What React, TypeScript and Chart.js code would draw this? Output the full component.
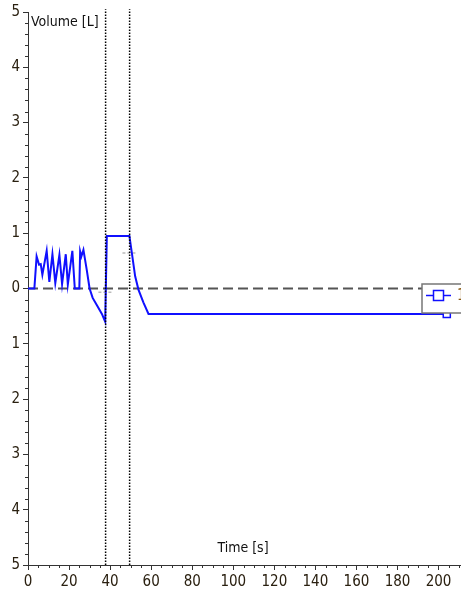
import React, { useEffect, useRef } from "react";
import { Chart, registerables } from "chart.js";

Chart.register(...registerables);

// ---- data ----
const TIME = [0, 3.1, 4.2, 5.4, 6.2, 7.0, 9.1, 10.4, 11.9, 13.3, 15.3, 16.6, 18.4, 19.4, 21.6, 22.8, 25.0, 25.4, 26.0, 27.0, 28.6, 30.0, 31.5, 33.5, 36.0, 37.6, 38.4, 49.4, 50.6, 52.2, 53.8, 56.2, 58.7, 204];
const VOLUME = [0, 0, 0.58, 0.43, 0.44, 0.25, 0.68, 0.12, 0.62, 0.1, 0.61, 0.08, 0.62, 0.07, 0.68, 0, 0, 0.67, 0.58, 0.7, 0.34, 0.0, -0.17, -0.3, -0.46, -0.6, 0.95, 0.95, 0.64, 0.22, -0.02, -0.25, -0.46, -0.46];
const MARKER_TIMES = [37.8, 49.5];
const REF_LEVEL = 0;
const GRAY_SEG_A_T = [34.3, 40.8];
const GRAY_SEG_A_V = [-0.07, -0.07];
const GRAY_SEG_B_T = [46, 52.5];
const GRAY_SEG_B_V = [0.64, 0.64];
const X_MIN = 0;
const X_MAX = 236.5;
const Y_MIN = -5;
const Y_MAX = 5;
const LEGEND_LABEL = "1";
const X_TITLE = "Time [s]";
const Y_TITLE = "Volume [L]";

const FONT = "'DejaVu Sans Condensed', 'Liberation Sans', sans-serif";
const BLUE = "#1010ff";
const CANVAS_W = 520;

const pts = (xs: number[], ys: number[]) => xs.map((x, i) => ({ x, y: ys[i] }));

const decorPlugin = {
  id: "decor",
  afterDraw(chart: any) {
    const ctx = chart.ctx;
    const xs = chart.scales.x;
    const ys = chart.scales.y;
    const area = chart.chartArea;
    ctx.save();
    // minor ticks
    ctx.strokeStyle = "#333";
    ctx.lineWidth = 1;
    ctx.beginPath();
    for (let v = Y_MIN; v <= Y_MAX + 1e-9; v += 0.2) {
      const r = Math.round(v * 10) / 10;
      if (Math.abs(r - Math.round(r)) < 1e-6) continue;
      const py = Math.round(ys.getPixelForValue(r)) + 0.5;
      ctx.moveTo(area.left - 3, py);
      ctx.lineTo(area.left, py);
    }
    for (let v = X_MIN; v <= X_MAX; v += 5) {
      if (v % 20 === 0) continue;
      const px = Math.round(xs.getPixelForValue(v)) + 0.5;
      ctx.moveTo(px, area.bottom);
      ctx.lineTo(px, area.bottom + 3);
    }
    ctx.stroke();

    // axis titles
    ctx.fillStyle = "#111";
    ctx.font = `14px ${FONT}`;
    ctx.textBaseline = "top";
    ctx.textAlign = "left";
    ctx.fillText(Y_TITLE, area.left + 3, area.top + 3);
    ctx.textAlign = "center";
    ctx.fillText(X_TITLE, 243, 541);

    // legend box
    const lx = 422, ly = 284, lw = 70, lh = 29;
    ctx.fillStyle = "#fff";
    ctx.fillRect(lx, ly, lw, lh);
    ctx.strokeStyle = "#777";
    ctx.lineWidth = 1.5;
    ctx.strokeRect(lx, ly, lw, lh);
    ctx.strokeStyle = BLUE;
    ctx.lineWidth = 1.5;
    ctx.beginPath();
    ctx.moveTo(426, 295.5);
    ctx.lineTo(451, 295.5);
    ctx.stroke();
    ctx.fillStyle = "#fff";
    ctx.fillRect(433.5, 290.5, 10, 10);
    ctx.strokeRect(433.5, 290.5, 10, 10);
    ctx.fillStyle = "#8a5a10";
    ctx.font = `15px ${FONT}`;
    ctx.textAlign = "left";
    ctx.textBaseline = "middle";
    ctx.fillText(LEGEND_LABEL, 457, 296);
    ctx.restore();
  },
};

export default function App() {
  const ref = useRef<HTMLCanvasElement>(null);
  useEffect(() => {
    if (!ref.current) return;
    const main = pts(TIME, VOLUME);
    const last = main.length - 1;
    const datasets: any[] = [
      {
        data: main,
        borderColor: BLUE,
        borderWidth: 2,
        backgroundColor: "#fff",
        pointStyle: "rect",
        pointRadius: main.map((_, i) => (i === last ? 5 : 0)),
        pointBorderColor: BLUE,
        pointBackgroundColor: "#fff",
        pointBorderWidth: 1.5,
        order: 1,
        clip: false,
      },
      {
        data: pts([X_MIN, X_MAX], [REF_LEVEL, REF_LEVEL]),
        borderColor: "#555",
        borderWidth: 2,
        borderDash: [10, 5],
        pointRadius: 0,
        order: 3,
      },
      {
        data: pts(GRAY_SEG_A_T, GRAY_SEG_A_V),
        borderColor: "#bbb",
        borderWidth: 1.5,
        borderDash: [3, 2],
        pointRadius: 0,
        order: 2,
      },
      {
        data: pts(GRAY_SEG_B_T, GRAY_SEG_B_V),
        borderColor: "#bbb",
        borderWidth: 1.5,
        borderDash: [3, 2],
        pointRadius: 0,
        order: 2,
      },
      ...MARKER_TIMES.map((t) => ({
        data: pts([t, t], [Y_MIN, Y_MAX + 0.05]),
        borderColor: "#000",
        borderWidth: 1.5,
        borderDash: [1.5, 1.5],
        pointRadius: 0,
        clip: false,
        order: 0,
      })),
    ];
    const chart = new Chart(ref.current, {
      type: "line",
      data: { datasets },
      options: {
        animation: false,
        responsive: false,
        maintainAspectRatio: false,
        layout: { padding: { top: 11, left: 0, right: 0, bottom: 0 } },
        plugins: { legend: { display: false }, tooltip: { enabled: false } },
        elements: { line: { tension: 0 } },
        scales: {
          x: {
            type: "linear",
            min: X_MIN,
            max: X_MAX,
            afterFit: (s: any) => { s.height = 28; s.paddingRight = 0; s.paddingLeft = 0; },
            border: { display: true, color: "#333", width: 1 },
            grid: { display: true, drawOnChartArea: false, drawTicks: true, tickLength: 5, color: "#333" },
            ticks: {
              stepSize: 20,
              color: "#2a2010",
              font: { family: FONT, size: 15 },
              padding: 3,
              maxRotation: 0,
              autoSkip: false,
              callback: (v: any) => (Number(v) > 200 ? "" : String(v)),
            },
          },
          y: {
            type: "linear",
            min: Y_MIN,
            max: Y_MAX,
            afterFit: (s: any) => { s.width = 28; },
            border: { display: true, color: "#333", width: 1 },
            grid: { display: true, drawOnChartArea: false, drawTicks: true, tickLength: 5, color: "#333" },
            ticks: {
              stepSize: 1,
              color: "#2a2010",
              font: { family: FONT, size: 15 },
              padding: 3,
              callback: (v: any) => String(Math.abs(Number(v))),
            },
          },
        },
      },
      plugins: [decorPlugin],
    });
    return () => chart.destroy();
  }, []);
  return (
    <div style={{ position: "fixed", left: 0, top: 0, width: 461, height: 593, overflow: "hidden", background: "#fff" }}>
      <canvas ref={ref} width={CANVAS_W} height={593} style={{ display: "block", width: CANVAS_W, height: 593 }} />
    </div>
  );
}
